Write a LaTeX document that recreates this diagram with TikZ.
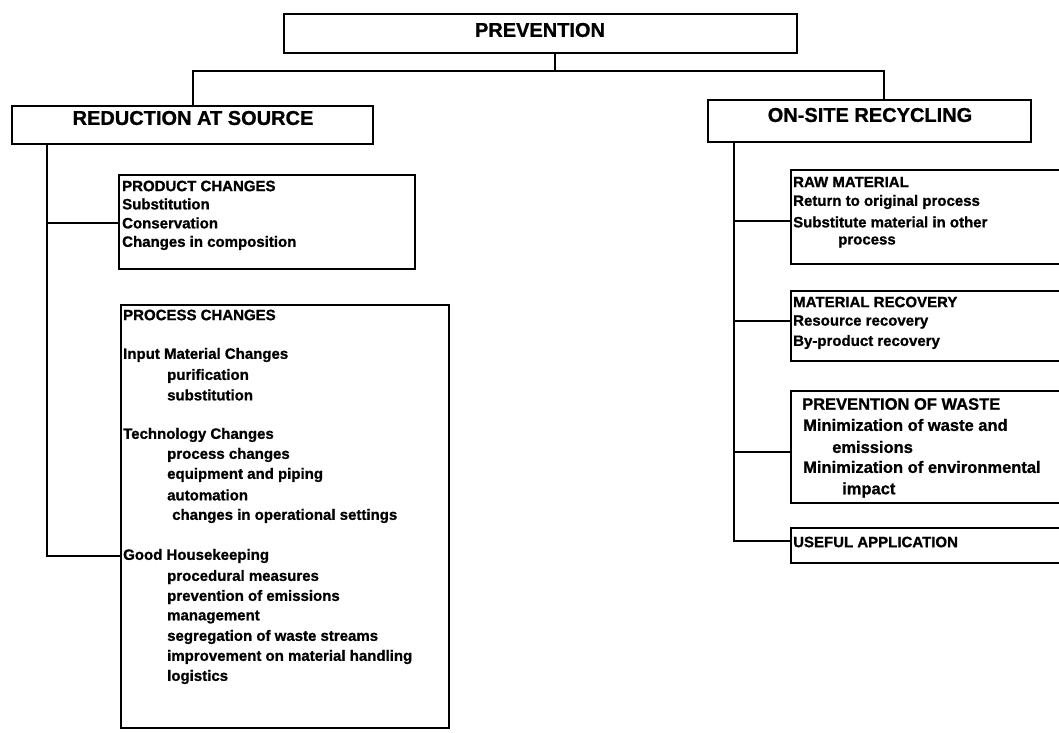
\documentclass[tikz,border=0pt]{standalone}
\usepackage{fontspec}
\setmainfont{Liberation Sans}
\newfontfamily\diafont[FakeBold=1]{Liberation Sans Bold}
\begin{document}
\begin{tikzpicture}[x=1pt,y=-1pt,
  box/.style={draw, line width=2.4pt, rectangle, inner sep=0pt, anchor=north west},
  conn/.style={line width=2pt},
  title/.style={font={\diafont\fontsize{20}{24}\selectfont}, inner sep=0pt},
  item/.style={font={\diafont\fontsize{15}{18}\selectfont}, inner sep=0pt, anchor=west},
  itemb/.style={font={\diafont\fontsize{16.5}{20}\selectfont}, inner sep=0pt, anchor=west}]
\clip (0,0) rectangle (1059,732);
\fill[white] (0,0) rectangle (1059,732);

% --- top level ---
\node[box, minimum width=513pt, minimum height=39pt] (prev) at (283,13) {};
\node[title] (tprev) at (540,30) {PREVENTION};

\node[box, minimum width=361pt, minimum height=38pt] (red) at (11,105) {};
\node[title] (tred) at (193,118) {REDUCTION AT SOURCE};

\node[box, minimum width=323pt, minimum height=42pt] (ons) at (707,99) {};
\node[title] (tons) at (870,115) {ON-SITE RECYCLING};

\coordinate (j) at (555,71);
\coordinate (jr) at (884,71);
\draw[conn] (prev.south -| j) -- (j);
\draw[conn] (red.north) |- (jr) -- (ons.north -| jr);

% --- reduction at source ---
\node[box, minimum width=296pt, minimum height=94pt] (prod) at (118,174) {};
\node[item] (p1) at (122,186) {PRODUCT CHANGES};
\node[item] (p2) at (122,204) {Substitution};
\node[item] (p3) at (122,223) {Conservation};
\node[item] (p4) at (122,243) {Changes in composition};

\node[box, minimum width=328pt, minimum height=423pt] (proc) at (120,304) {};
\node[item] (q1) at (123,315) {PROCESS CHANGES};
\node[item] (q2) at (123,355) {Input Material Changes};
\node[item] (q3) at (167,376) {purification};
\node[item] (q4) at (167,395) {substitution};
\node[item] (q5) at (123,435) {Technology Changes};
\node[item] (q6) at (167,455) {process changes};
\node[item] (q7) at (167,475) {equipment and piping};
\node[item] (q8) at (167,495) {automation};
\node[item] (q9) at (172,516) {changes in operational settings};
\node[item] (q10) at (123,556) {Good Housekeeping};
\node[item] (q11) at (167,577) {procedural measures};
\node[item] (q12) at (167,597) {prevention of emissions};
\node[item] (q13) at (167,617) {management};
\node[item] (q14) at (167,637) {segregation of waste streams};
\node[item] (q15) at (167,657) {improvement on material handling};
\node[item] (q16) at (167,677) {logistics};

\coordinate (lp) at (47,223);
\coordinate (lg) at (47,556);
\draw[conn] (red.south -| lp) -- (lg) -- (proc.west |- lg);
\draw[conn] (lp) -- (prod.west |- lp);

% --- on-site recycling ---
\node[box, minimum width=290pt, minimum height=94pt] (raw) at (790,169) {};
\node[item] (r1) at (793,182) {RAW MATERIAL};
\node[item] (r2) at (793,202) {Return to original process};
\node[item] (r3) at (793,222) {Substitute material in other};
\node[item] (r4) at (838,242) {process};

\node[box, minimum width=290pt, minimum height=70pt] (mat) at (790,290) {};
\node[item] (m1) at (793,302) {MATERIAL RECOVERY};
\node[item] (m2) at (793,322) {Resource recovery};
\node[item] (m3) at (793,342) {By-product recovery};

\node[box, minimum width=290pt, minimum height=112pt] (pow) at (790,390) {};
\node[itemb] (w1) at (802,404) {PREVENTION OF WASTE};
\node[itemb] (w2) at (803,425) {Minimization of waste and};
\node[itemb] (w3) at (832,447) {emissions};
\node[itemb] (w4) at (803,467) {Minimization of environmental};
\node[itemb] (w5) at (842,490) {impact};

\node[box, minimum width=290pt, minimum height=35pt] (use) at (790,527) {};
\node[item] (u1) at (793,542) {USEFUL APPLICATION};

\coordinate (rr) at (734,221);
\coordinate (rm) at (734,321);
\coordinate (rw) at (734,452);
\coordinate (ru) at (734,541);
\draw[conn] (ons.south -| rr) -- (ru) -- (use.west |- ru);
\draw[conn] (rr) -- (raw.west |- rr);
\draw[conn] (rm) -- (mat.west |- rm);
\draw[conn] (rw) -- (pow.west |- rw);
\end{tikzpicture}
\end{document}
